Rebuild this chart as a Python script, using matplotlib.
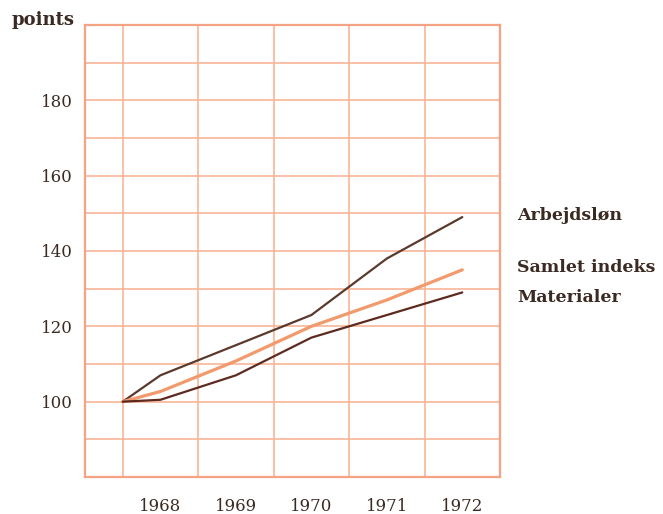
import matplotlib.pyplot as plt
from matplotlib.ticker import MultipleLocator, FixedLocator

# data (index, start = 100)
years = [1967.5, 1968, 1969, 1970, 1971, 1972]
arbejdslon = [100, 107, 115, 123, 138, 149]
samlet = [100, 102.7, 110.8, 120, 127, 135]
materialer = [100, 100.5, 107, 117, 123, 129]

year_ticks = [1968, 1969, 1970, 1971, 1972]
y_ticks = [100, 120, 140, 160, 180]

grid_col = "#f7b597"
text_col = "#3b2a22"

plt.rcParams["font.family"] = ["DejaVu Serif"]

fig = plt.figure(figsize=(6.63, 5.14), dpi=100)
ax = fig.add_axes([85 / 663, 1 - 477 / 514, 415 / 663, 452 / 514])

ax.plot(years, arbejdslon, color="#5b3a2c", lw=1.6, solid_capstyle="round")
ax.plot(years, samlet, color="#f29a6c", lw=2.3, solid_capstyle="round")
ax.plot(years, materialer, color="#5e2a1f", lw=1.6, solid_capstyle="round")

ax.set_xlim(1967, 1972.5)
ax.set_ylim(80, 200)

ax.xaxis.set_major_locator(FixedLocator(year_ticks))
ax.xaxis.set_minor_locator(FixedLocator([1967.5, 1968.5, 1969.5, 1970.5, 1971.5]))
ax.yaxis.set_major_locator(FixedLocator(y_ticks))
ax.yaxis.set_minor_locator(MultipleLocator(10))
ax.set_xticklabels([str(y) for y in year_ticks])
ax.set_yticklabels([str(v) for v in y_ticks])

ax.grid(False, which="major", axis="x")
ax.grid(True, which="minor", axis="x", color=grid_col, lw=1.2)
ax.grid(True, which="both", axis="y", color=grid_col, lw=1.2)
ax.set_axisbelow(True)

ax.tick_params(which="both", length=0)
ax.tick_params(axis="x", pad=15, labelsize=12, labelcolor=text_col)
ax.tick_params(axis="y", pad=9, labelsize=12, labelcolor=text_col)

for sp in ax.spines.values():
    sp.set_color("#f4a383")
    sp.set_linewidth(1.6)

fig.text(12 / 663, 1 - 20 / 514, "points", fontsize=13, fontweight="bold",
         color=text_col, va="center", ha="left")

labels = [("Arbejdsløn", 215), ("Samlet indeks", 268), ("Materialer", 297)]
for name, ypx in labels:
    fig.text(517 / 663, 1 - ypx / 514, name, fontsize=12.5, fontweight="bold",
             color=text_col, va="center", ha="left")

fig.savefig("out.png", dpi=100)
